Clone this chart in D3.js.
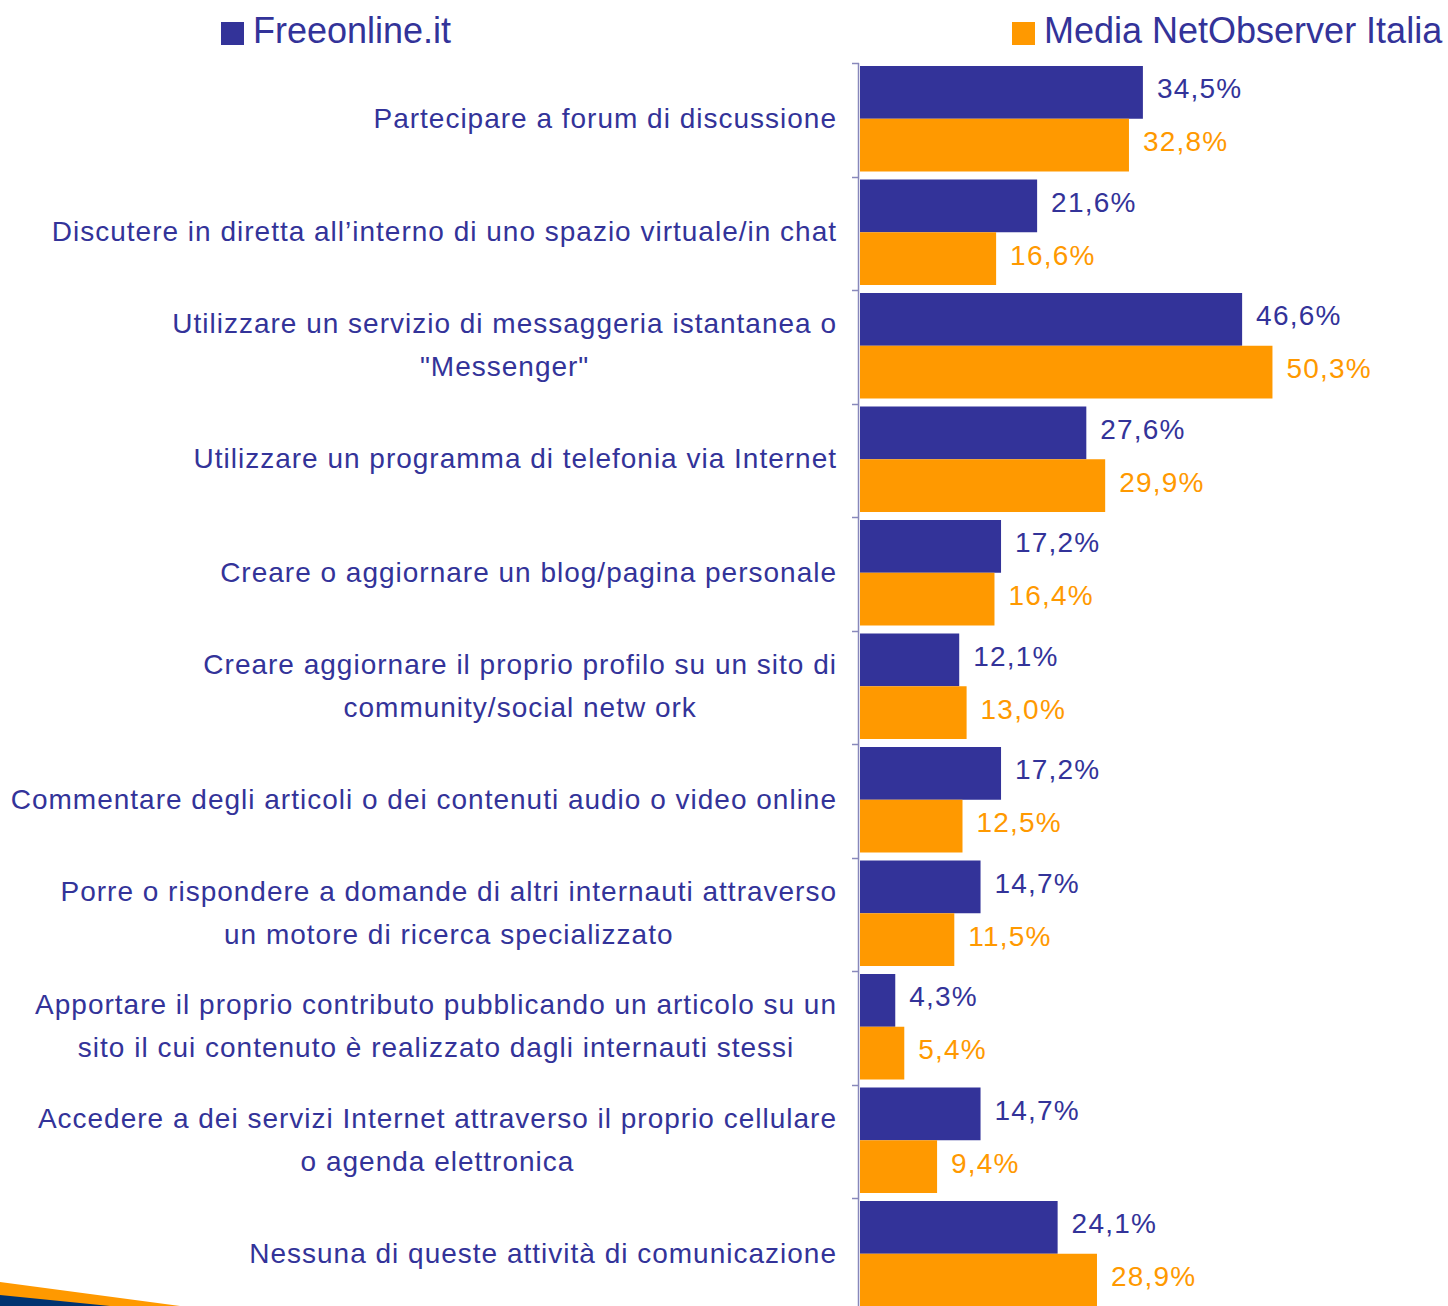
<!DOCTYPE html>
<html>
<head>
    <meta charset="utf-8">
    <script src="https://d3js.org/d3.v7.min.js"></script>
    <style>
        body { margin: 0; background: #fff; }
        text { font-family: "Liberation Sans", Arial, sans-serif; }
    </style>
</head>
<body>
<script>
// data
var categories = [
    ["Partecipare a forum di discussione"],
    ["Discutere in diretta all\u2019interno di uno spazio virtuale/in chat"],
    ["Utilizzare un servizio di messaggeria istantanea o", "\"Messenger\""],
    ["Utilizzare un programma di telefonia via Internet"],
    ["Creare o aggiornare un blog/pagina personale"],
    ["Creare aggiornare il proprio profilo su un sito di", "community/social netw ork"],
    ["Commentare degli articoli o dei contenuti audio o video online"],
    ["Porre o rispondere a domande di altri internauti attraverso", "un motore di ricerca specializzato"],
    ["Apportare il proprio contributo pubblicando un articolo su un", "sito il cui contenuto \u00e8 realizzato dagli internauti stessi"],
    ["Accedere a dei servizi Internet attraverso il proprio cellulare", "o agenda elettronica"],
    ["Nessuna di queste attivit\u00e0 di comunicazione"]
];
var freeonline = [34.5, 21.6, 46.6, 27.6, 17.2, 12.1, 17.2, 14.7, 4.3, 14.7, 24.1];
var netobserver = [32.8, 16.6, 50.3, 29.9, 16.4, 13.0, 12.5, 11.5, 5.4, 9.4, 28.9];
var seriesNames = ["Freeonline.it", "Media NetObserver Italia"];
var colors = ["#333399", "#ff9900"];

var width = 1448, height = 1306;
var x0 = 860, topY = 63, bandH = 113.5;

var svg = d3.select("body").append("svg")
    .attr("width", width).attr("height", height);

// decorative swoosh bottom-left
svg.append("path").attr("d", "M0,1282 L180,1306 L0,1306 Z").attr("fill", "#ff9900");
svg.append("path").attr("d", "M0,1295 L110,1306 L0,1306 Z").attr("fill", "#003370");

var y = d3.scaleBand()
    .domain(d3.range(categories.length))
    .range([topY, topY + bandH * categories.length])
    .paddingInner(0).paddingOuter(0);

var sub = d3.scaleBand()
    .domain([0, 1])
    .range([3, bandH - 5]);

var x = d3.scaleLinear().domain([0, 50]).range([x0, x0 + 50 * 8.2]);

var fmt = function(v) { return d3.format(".1f")(v).replace(".", ",") + "%"; };

var series = [freeonline, netobserver];

series.forEach(function(vals, s) {
    var g = svg.append("g");
    g.selectAll("rect").data(vals).enter().append("rect")
        .attr("x", x(0))
        .attr("y", function(d, i) { return y(i) + sub(s); })
        .attr("width", function(d) { return x(d) - x(0); })
        .attr("height", sub.bandwidth())
        .attr("fill", colors[s]);
    g.selectAll("text").data(vals).enter().append("text")
        .attr("x", function(d) { return x(d) + 14; })
        .attr("y", function(d, i) { return y(i) + sub(s) + sub.bandwidth() / 2 - 4; })
        .attr("dy", "0.36em")
        .attr("font-size", 28)
        .attr("letter-spacing", 1.2)
        .attr("fill", colors[s])
        .text(fmt);
});

// axis line and ticks
svg.append("line")
    .attr("x1", 858.5).attr("x2", 858.5)
    .attr("y1", topY).attr("y2", height)
    .attr("stroke", "#8888bb").attr("stroke-width", 1.5);
svg.selectAll(".tick").data(d3.range(categories.length + 1)).enter().append("line")
    .attr("x1", 852).attr("x2", 859)
    .attr("y1", function(d) { return Math.round(topY + d * bandH) + 0.5; })
    .attr("y2", function(d) { return Math.round(topY + d * bandH) + 0.5; })
    .attr("stroke", "#8888bb").attr("stroke-width", 1.5);

// category labels
var labelRight = 837, lineH = 43;
categories.forEach(function(lines, i) {
    var cy = y(i) + bandH / 2 - 2;
    var g = svg.append("g");
    var texts = lines.map(function(t, k) {
        return g.append("text")
            .attr("y", cy + (k - (lines.length - 1) / 2) * lineH)
            .attr("dy", "0.36em")
            .attr("font-size", 28)
            .attr("letter-spacing", 1.0)
            .attr("fill", "#333399")
            .text(t);
    });
    var maxW = d3.max(texts, function(t) { return t.node().getComputedTextLength(); });
    texts.forEach(function(t) {
        t.attr("x", labelRight - maxW / 2).attr("text-anchor", "middle");
    });
});

// legend
var legendX = [221, 1012];
seriesNames.forEach(function(n, s) {
    svg.append("rect")
        .attr("x", legendX[s]).attr("y", 22)
        .attr("width", 23).attr("height", 23)
        .attr("fill", colors[s]);
    svg.append("text")
        .attr("x", legendX[s] + 32).attr("y", 30)
        .attr("dy", "0.36em")
        .attr("font-size", 36)
        .attr("fill", "#333399")
        .text(n);
});
</script>
</body>
</html>
